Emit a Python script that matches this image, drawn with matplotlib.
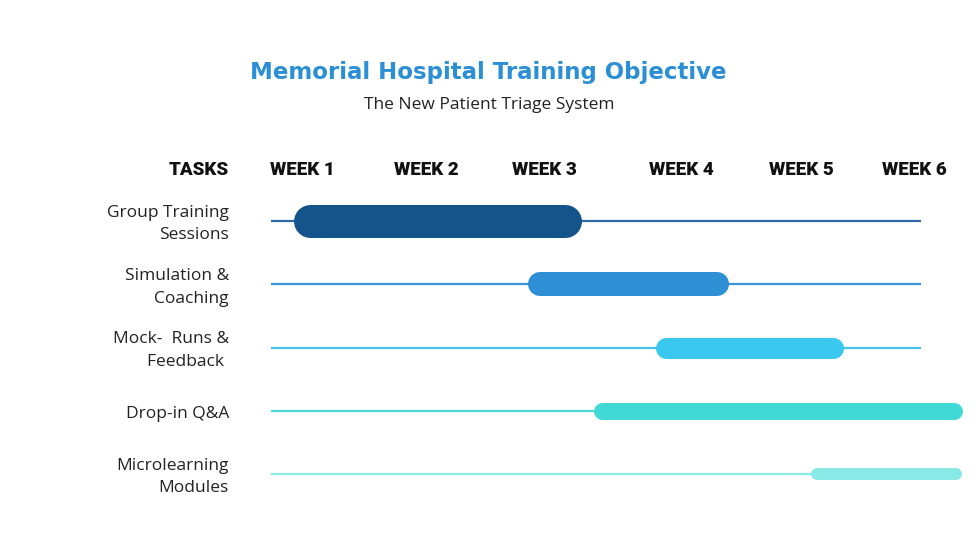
import matplotlib.pyplot as plt

# data
title = "Memorial Hospital Training Objective"
subtitle = "The New Patient Triage System"
tasks = ["Group Training\nSessions", "Simulation &\nCoaching", "Mock-  Runs &\nFeedback ",
         "Drop-in Q&A", "Microlearning\nModules"]
weeks = ["WEEK 1", "WEEK 2", "WEEK 3", "WEEK 4", "WEEK 5", "WEEK 6"]
week_pos = [1.0, 2.02, 2.99, 4.11, 5.09, 6.02]
start = [0.93, 2.85, 3.90, 3.39, 5.17]
end = [3.29, 4.50, 5.44, 6.41, 6.41]
track_end = [6.07, 6.07, 6.07, 6.41, 6.41]
track_start = 0.75
bar_px = [33, 24, 21, 17, 12]
bar_colors = ["#15548b", "#2e8fd5", "#3ac8ee", "#40d9d6", "#88e9e6"]
line_colors = ["#2d6aa6", "#3a93d8", "#45c3ea", "#4ed8dc", "#8ae8e6"]

W, H = 979, 551
PX_WEEK = 122.0   # pixels per week
X0 = 302          # pixel of week 1
ROW0, ROW_PX = 221, 63.25

fig = plt.figure(figsize=(W / 100, H / 100), dpi=100)
ax = fig.add_axes([0, 0, 1, 1])
ax.set_xlim(1 - X0 / PX_WEEK, 1 + (W - X0) / PX_WEEK)
ax.set_ylim((H - ROW0) / ROW_PX, -ROW0 / ROW_PX)
ax.axis("off")

font = "Open Sans"

for i, task in enumerate(tasks):
    ax.plot([track_start, track_end[i]], [i, i], color=line_colors[i], lw=1.6,
            solid_capstyle="butt", zorder=1)
    half = bar_px[i] / 2 / PX_WEEK
    ax.plot([start[i] + half, end[i] - half], [i, i], color=bar_colors[i],
            lw=bar_px[i] * 0.72, solid_capstyle="round", zorder=2)
    ax.text(1 + (229 - X0) / PX_WEEK, i + 0.05, task, ha="right", va="center",
            fontsize=12.5, family=font, color="#222222", linespacing=1.55)

head_y = (170 - ROW0) / ROW_PX
ax.text(1 + (229 - X0) / PX_WEEK, head_y, "TASKS", ha="right", va="center",
        fontsize=13.5, fontweight="heavy", family="Roboto", color="#111111")
for p, wk in zip(week_pos, weeks):
    ax.text(p, head_y, wk, ha="center", va="center", fontsize=13.5,
            fontweight="heavy", family="Roboto", color="#111111")

fig.text(0.4985, 1 - 72 / H, title, ha="center", va="center", fontsize=16.5,
         fontweight="bold", family="DejaVu Sans", color="#2b8fd6")
fig.text(0.4995, 1 - 105 / H, subtitle, ha="center", va="center", fontsize=12.5,
         family=font, color="#222222")

fig.savefig("out.png", dpi=100, facecolor="white")
